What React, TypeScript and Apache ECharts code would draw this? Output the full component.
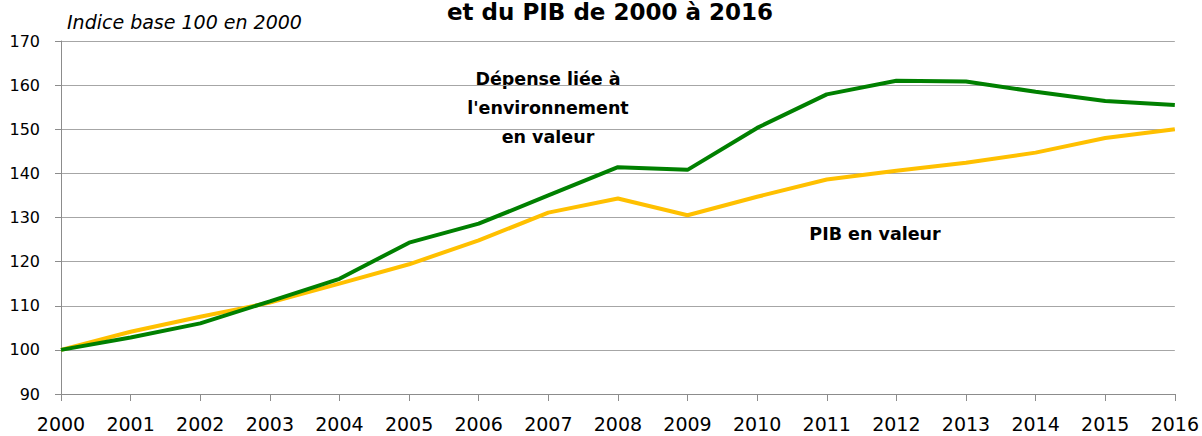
import React, { useEffect, useRef } from "react";
import * as echarts from "echarts";

const years = ["2000","2001","2002","2003","2004","2005","2006","2007","2008","2009","2010","2011","2012","2013","2014","2015","2016"];
const depenseEnv = [100, 102.8, 106.0, 111.0, 116.1, 124.3, 128.6, 135.0, 141.4, 140.8, 150.3, 157.9, 161.0, 160.8, 158.5, 156.4, 155.5];
const pibValeur = [100, 104.1, 107.5, 110.7, 115.0, 119.4, 124.8, 131.1, 134.3, 130.5, 134.7, 138.6, 140.6, 142.4, 144.7, 148.0, 150.0];

const FONT = "'DejaVu Sans', sans-serif";

export default function App() {
  const ref = useRef<HTMLDivElement>(null);
  useEffect(() => {
    if (!ref.current) return;
    const chart = echarts.init(ref.current, undefined, { renderer: "svg" });
    chart.setOption({
      animation: false,
      backgroundColor: "#ffffff",
      textStyle: { fontFamily: FONT },
      grid: { left: 61, right: 27, top: 41, bottom: 42, containLabel: false },
      xAxis: {
        type: "category",
        data: years,
        boundaryGap: false,
        axisLine: { lineStyle: { color: "#8c8c8c", width: 1 } },
        axisTick: { show: true, length: 7, lineStyle: { color: "#8c8c8c" } },
        axisLabel: { color: "#000", fontSize: 19, margin: 20, fontFamily: FONT },
        splitLine: { show: false },
      },
      yAxis: {
        type: "value",
        min: 90,
        max: 170,
        interval: 10,
        axisLine: { show: true, lineStyle: { color: "#8c8c8c", width: 1 } },
        axisTick: { show: true, length: 6, lineStyle: { color: "#8c8c8c" } },
        axisLabel: { color: "#000", fontSize: 16, margin: 21, fontFamily: FONT },
        splitLine: { show: true, lineStyle: { color: "#a6a6a6", width: 1 } },
      },
      series: [
        {
          name: "PIB en valeur",
          type: "line",
          data: pibValeur,
          symbol: "none",
          lineStyle: { color: "#ffc000", width: 4 },
          itemStyle: { color: "#ffc000" },
          z: 2,
        },
        {
          name: "Dépense liée à l'environnement en valeur",
          type: "line",
          data: depenseEnv,
          symbol: "none",
          lineStyle: { color: "#008000", width: 4 },
          itemStyle: { color: "#008000" },
          z: 3,
        },
      ],
      graphic: [
        {
          type: "text",
          x: 610,
          y: 12,
          style: {
            text: "et du PIB de 2000 à 2016",
            font: `bold 23px ${FONT}`,
            fill: "#000",
            align: "center",
            verticalAlign: "middle",
          },
        },
        {
          type: "text",
          x: 67,
          y: 22,
          style: {
            text: "Indice base 100 en 2000",
            font: `italic 19px ${FONT}`,
            fill: "#000",
            verticalAlign: "middle",
          },
        },
        {
          type: "text",
          x: 548,
          y: 108,
          style: {
            text: "Dépense liée à\nl'environnement\nen valeur",
            font: `bold 17.5px ${FONT}`,
            fill: "#000",
            align: "center",
            verticalAlign: "middle",
            lineHeight: 29.4,
          },
        },
        {
          type: "text",
          x: 875,
          y: 234,
          style: {
            text: "PIB en valeur",
            font: `bold 17.5px ${FONT}`,
            fill: "#000",
            align: "center",
            verticalAlign: "middle",
          },
        },
      ],
    });
    return () => chart.dispose();
  }, []);
  return (
    <div
      ref={ref}
      style={{ position: "fixed", left: 0, top: 0, width: 1202, height: 436 }}
    />
  );
}
